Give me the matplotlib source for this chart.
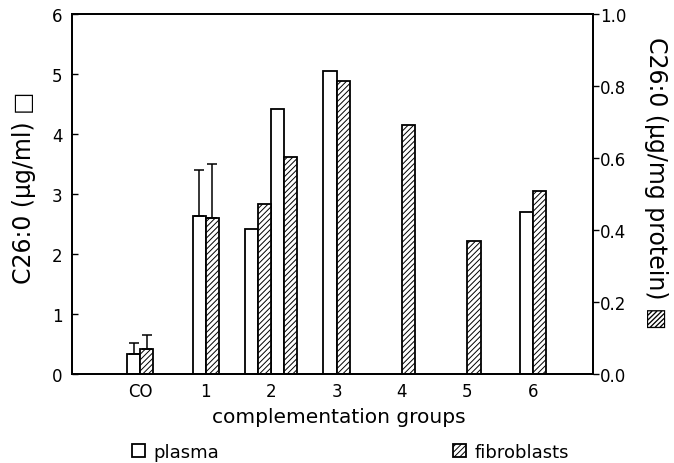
import matplotlib
matplotlib.use("Agg")
import matplotlib.pyplot as plt
import numpy as np

plt.rcParams['font.family'] = ['DejaVu Sans']
plt.rcParams['hatch.linewidth'] = 0.7

# ---- data ----
groups = ['CO', '1', '2', '3', '4', '5', '6']

plasma_group = ['CO', '1', '2', '2', '3', '6']
plasma_vals = [0.33, 2.63, 2.41, 4.41, 5.05, 2.69]      # µg/ml (left axis)
plasma_err = [0.19, 0.77, 0.0, 0.0, 0.0, 0.0]

fibro_group = ['CO', '1', '2', '2', '3', '4', '5', '6']
fibro_vals = [0.070, 0.432, 0.473, 0.603, 0.813, 0.690, 0.370, 0.507]  # µg/mg protein (right axis)
fibro_err = [0.038, 0.151, 0.0, 0.0, 0.0, 0.0, 0.0, 0.0]

left_ticks = [0, 1, 2, 3, 4, 5, 6]
right_ticks = [0.0, 0.2, 0.4, 0.6, 0.8, 1.0]

# ---- layout of bars ----
bw = 0.2
npairs = {g: max(plasma_group.count(g), fibro_group.count(g)) for g in groups}

def positions(glist, shift):
    seen = {}
    out = []
    for g in glist:
        k = seen.get(g, 0)
        seen[g] = k + 1
        n = npairs[g]
        out.append(groups.index(g) + (k - (n - 1) / 2) * 2 * bw + shift)
    return np.array(out)

px = positions(plasma_group, -bw / 2)
fx = positions(fibro_group, bw / 2)

fig = plt.figure(figsize=(6.74, 4.64), dpi=100)
ax = fig.add_axes([0.107, 0.192, 0.773, 0.776])
ax2 = ax.twinx()

pb = ax.bar(px, plasma_vals, width=bw, facecolor='white', edgecolor='black', linewidth=1.3, zorder=2)
pe = np.array(plasma_err)
m = pe > 0
ax.errorbar(px[m], np.array(plasma_vals)[m], yerr=[np.zeros(m.sum()), pe[m]],
            fmt='none', ecolor='black', elinewidth=1.1, capsize=3.5, capthick=1.1, zorder=3)

fb = ax2.bar(fx, fibro_vals, width=bw, facecolor='white', edgecolor='black', linewidth=1.3,
             hatch='//////', zorder=2)
fe = np.array(fibro_err)
m2 = fe > 0
ax2.errorbar(fx[m2], np.array(fibro_vals)[m2], yerr=[np.zeros(m2.sum()), fe[m2]],
             fmt='none', ecolor='black', elinewidth=1.1, capsize=3.5, capthick=1.1, zorder=3)

ax.set_xlim(-1.04, 6.92)
ax.set_ylim(0, 6)
ax2.set_ylim(0, 1.0)

ax.set_xticks(range(len(groups)))
ax.set_xticklabels(groups, fontsize=12)
ax.tick_params(axis='x', length=0, pad=6)
ax.set_yticks(left_ticks)
ax.set_yticklabels([str(t) for t in left_ticks], fontsize=12)
ax.tick_params(axis='y', direction='in', length=4, width=1, pad=7)

ax2.set_yticks(right_ticks)
ax2.set_yticklabels([f"{t:.1f}" for t in right_ticks], fontsize=12)
ax2.tick_params(axis='y', direction='out', length=4, width=1, pad=1)

for a in (ax, ax2):
    for s in a.spines.values():
        s.set_linewidth(1.3)

ax.set_xlabel('complementation groups', fontsize=14.5)
ax.xaxis.set_label_coords(0.512, -0.092)
ax.set_ylabel('C26:0 (\u03bcg/ml) \u25a1', fontsize=17, va='bottom')
ax.yaxis.set_label_coords(-0.069, 0.519)
ax2.set_ylabel('C26:0 (\u03bcg/mg protein) \u25a7', fontsize=17, rotation=270, va='bottom')
ax2.yaxis.set_label_coords(1.098, 0.533)

fig.legend([pb], ['plasma'], loc='center left', bbox_to_anchor=(0.196, 0.024),
           frameon=False, fontsize=13, handlelength=0.7, handleheight=0.7, handletextpad=0.5,
           borderaxespad=0, borderpad=0)
fig.legend([fb], ['fibroblasts'], loc='center left', bbox_to_anchor=(0.672, 0.024),
           frameon=False, fontsize=13, handlelength=0.7, handleheight=0.7, handletextpad=0.5,
           borderaxespad=0, borderpad=0)

fig.savefig('out.png', dpi=100)
